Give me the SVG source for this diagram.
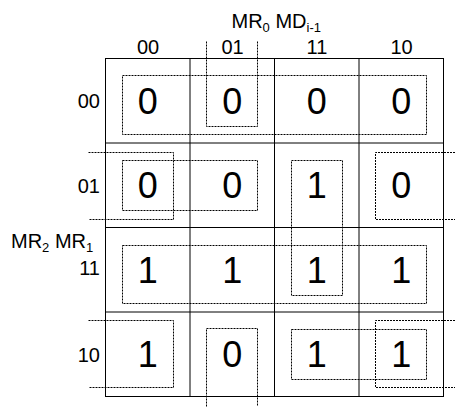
<svg xmlns="http://www.w3.org/2000/svg" width="455" height="408" viewBox="0 0 455 408">
<style>
.grid{stroke:#000;stroke-width:1;fill:none}
.loop{stroke:#000;stroke-width:1;fill:none;stroke-dasharray:2 1}
.lbl{font-family:"Liberation Sans",Arial,sans-serif;font-size:20px;fill:#000}
.sub{font-size:13px}
.v{font-family:"Liberation Sans",Arial,sans-serif;font-size:36px;fill:#000;text-anchor:middle}
</style>
<rect x="0" y="0" width="455" height="408" fill="#fff"/>
<g id="grid">
<rect class="grid" x="105.5" y="58.5" width="338" height="338"/>
<line class="grid" x1="190" y1="58.5" x2="190" y2="396.5"/>
<line class="grid" x1="274.5" y1="58.5" x2="274.5" y2="396.5"/>
<line class="grid" x1="359" y1="58.5" x2="359" y2="396.5"/>
<line class="grid" x1="105.5" y1="143" x2="443.5" y2="143"/>
<line class="grid" x1="105.5" y1="227.5" x2="443.5" y2="227.5"/>
<line class="grid" x1="105.5" y1="312" x2="443.5" y2="312"/>
</g>
<g id="labels">
<text class="lbl" x="231.5" y="27.5">MR<tspan class="sub" dy="4">0</tspan><tspan dy="-4"> MD</tspan><tspan class="sub" dy="4">i-1</tspan></text>
<text class="lbl" x="11" y="247.5">MR<tspan class="sub" dy="4">2</tspan><tspan dy="-4"> MR</tspan><tspan class="sub" dy="4">1</tspan></text>
<g text-anchor="middle">
<text class="lbl" x="148" y="53.5">00</text>
<text class="lbl" x="232.5" y="53.5">01</text>
<text class="lbl" x="317" y="53.5">11</text>
<text class="lbl" x="401.5" y="53.5">10</text>
</g>
<g text-anchor="end">
<text class="lbl" x="100" y="107.5">00</text>
<text class="lbl" x="100" y="192.5">01</text>
<text class="lbl" x="100" y="275">11</text>
<text class="lbl" x="100" y="361.5">10</text>
</g>
</g>
<g id="cells">
<g id="r00"><text class="v" x="147.75" y="113.5">0</text><text class="v" x="232.25" y="113.5">0</text><text class="v" x="316.75" y="113.5">0</text><text class="v" x="401.25" y="113.5">0</text></g>
<g id="r01"><text class="v" x="147.75" y="198">0</text><text class="v" x="232.25" y="198">0</text><text class="v" x="316.75" y="198">1</text><text class="v" x="401.25" y="198">0</text></g>
<g id="r11"><text class="v" x="147.75" y="282.5">1</text><text class="v" x="232.25" y="282.5">1</text><text class="v" x="316.75" y="282.5">1</text><text class="v" x="401.25" y="282.5">1</text></g>
<g id="r10"><text class="v" x="147.75" y="367">1</text><text class="v" x="232.25" y="367">0</text><text class="v" x="316.75" y="367">1</text><text class="v" x="401.25" y="367">1</text></g>
</g>
<g id="loops">
<rect class="loop" x="122.5" y="75.5" width="304" height="59"/>
<path class="loop" d="M206.5 41.5V126.5H257.5V41.5"/>
<path class="loop" d="M206.5 406.5V328.5H257.5V406.5"/>
<rect class="loop" x="122.5" y="160.5" width="135" height="50"/>
<path class="loop" d="M88.5 152.5H173.5V219.5H88.5"/>
<path class="loop" d="M455 152.5H375.5V219.5H455"/>
<rect class="loop" x="291.5" y="160.5" width="51" height="135"/>
<rect class="loop" x="122.5" y="245.5" width="304" height="58"/>
<path class="loop" d="M88.5 320.5H173.5V387.5H88.5"/>
<path class="loop" d="M455 320.5H375.5V387.5H455"/>
<rect class="loop" x="291.5" y="329.5" width="135" height="50"/>
</g>
</svg>
